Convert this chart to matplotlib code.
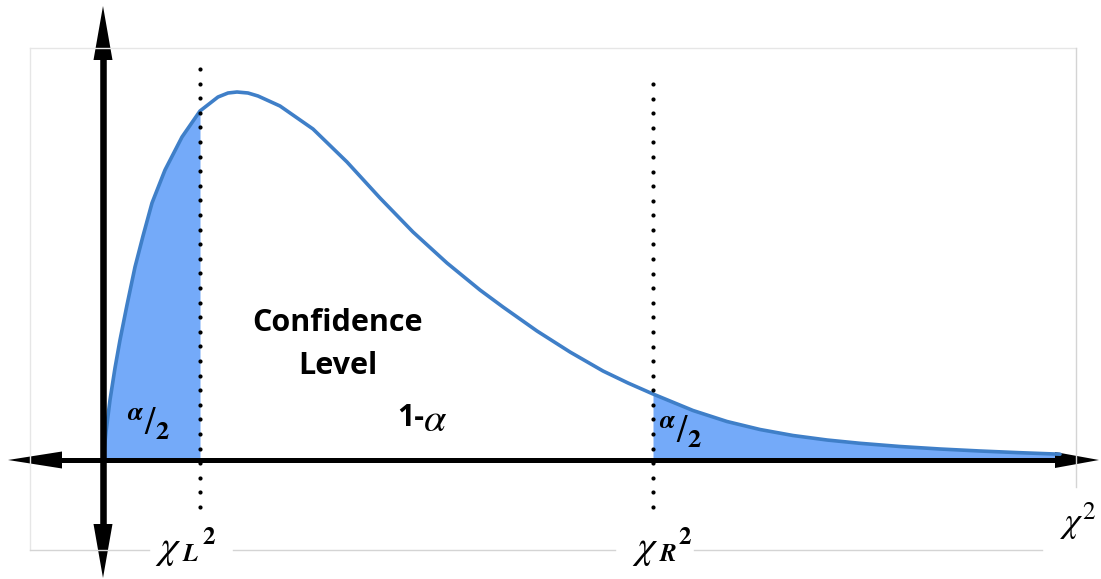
import numpy as np
import matplotlib
matplotlib.use("Agg")
import matplotlib.pyplot as plt

plt.rcParams['mathtext.fontset'] = 'stix'

# chi-square style density
chi = np.array([0, 0.06, 0.14, 0.24, 0.34, 0.48, 0.64, 0.80, 0.98, 1.24,
                1.58, 1.94, 2.30, 2.50, 2.68, 2.90, 3.10, 3.54, 4.20, 4.88,
                5.54, 6.20, 6.88, 7.54, 8.00, 8.68, 9.34, 10.00, 10.50, 11.00,
                11.80, 12.48, 13.14, 13.80, 14.48, 15.14, 15.94, 16.74, 17.54,
                18.34, 19.14])
dens = np.array([0, .028, .060, .092, .120, .155, .193, .224, .257, .290,
                 .323, .349, .363, .367, .368, .367, .364, .354, .331, .298,
                 .262, .228, .197, .170, .153, .129, .108, .089, .077, .066,
                 .0495, .0385, .0305, .0245, .020, .0167, .0135, .011, .009,
                 .0073, .0058])
chi_L = 1.94
chi_R = 11.0

curve_col = '#3F7FC8'
fill_col = '#74AAF9'
frame_col = '#D4D4D4'

# pixel -> data helpers (layout only)
def X(px):
    return (px - 103) / 50.0

def Y(py):
    return (460 - py) / 1000.0

fig = plt.figure(figsize=(11.01, 5.79), dpi=100)
ax = fig.add_axes([0, 0, 1, 1])
ax.set_xlim(X(0), X(1101))
ax.set_ylim(Y(579), Y(0))
ax.axis('off')

# light frame
ax.plot([X(30), X(1076)], [Y(48), Y(48)], c='#E6E6E6', lw=1)
ax.plot([X(30), X(30)], [Y(48), Y(550)], c='#E6E6E6', lw=1)
ax.plot([X(1076), X(1076)], [Y(48), Y(487)], c=frame_col, lw=1)
for a, b in [(30, 149), (233, 615), (694, 1042)]:
    ax.plot([X(a), X(b)], [Y(550), Y(550)], c=frame_col, lw=1)

# tails
m = chi <= chi_L
ax.fill_between(chi[m], 0, dens[m], color=fill_col, lw=0)
m = chi >= chi_R
ax.fill_between(chi[m], 0, dens[m], color=fill_col, lw=0)
ax.plot(chi, dens, c=curve_col, lw=2.6, solid_capstyle='round', solid_joinstyle='round')

# dotted critical lines
for xc, top in [(chi_L, 69), (chi_R, 84)]:
    ys = np.linspace(Y(top), Y(507), int(round((507 - top) / 14.6)) + 1)
    ax.plot(np.full(len(ys), xc), ys, 'o', c='k', ms=3.0, mew=0)

# axes with arrows
ax.plot([X(60), X(1056)], [0, 0], c='k', lw=3.6, solid_capstyle='butt')
ax.plot([0, 0], [Y(58), Y(526)], c='k', lw=4.7, solid_capstyle='butt')
ax.fill([X(8), X(62), X(62)], [0, Y(451.5), Y(468.5)], c='k', lw=0)
ax.fill([X(1099), X(1055), X(1055)], [0, Y(452), Y(468)], c='k', lw=0)
ax.fill([0, X(93.5), X(112.5)], [Y(6), Y(60), Y(60)], c='k', lw=0)
ax.fill([0, X(93.5), X(112.5)], [Y(578), Y(524), Y(524)], c='k', lw=0)

# labels
tf = dict(family='Open Sans', weight='bold', color='k', va='center')
ax.text(X(337), Y(323), 'Confidence', fontsize=22, ha='center', **tf)
ax.text(X(338), Y(366), 'Level', fontsize=22, ha='center', **tf)
ax.text(X(424), Y(418), '1-', fontsize=22, ha='right', **tf)
ax.text(X(423), Y(420), r'$\alpha$', fontsize=29, ha='left', va='center')

half = r'$^{\boldsymbol{\alpha}}/_{\mathbf{2}}$'
ax.text(X(149), Y(425), half, fontsize=27, ha='center', va='center')
ax.text(X(681), Y(433), half, fontsize=27, ha='center', va='center')

sf = dict(family='STIXGeneral', weight='bold', ha='center', va='center')
for xc, sub, xs, x2 in [(168, 'L', 190, 209), (645, 'R', 668, 685)]:
    ax.text(X(xc), Y(548), r'$\chi$', fontsize=29, ha='center', va='center')
    ax.text(X(xs), Y(554), sub, fontsize=18, style='italic', **sf)
    ax.text(X(x2), Y(538), '2', fontsize=18, **sf)
ax.text(X(1078), Y(521), r'$\chi^{2}$', fontsize=26, ha='center', va='center')

fig.savefig('out.png', dpi=100)
